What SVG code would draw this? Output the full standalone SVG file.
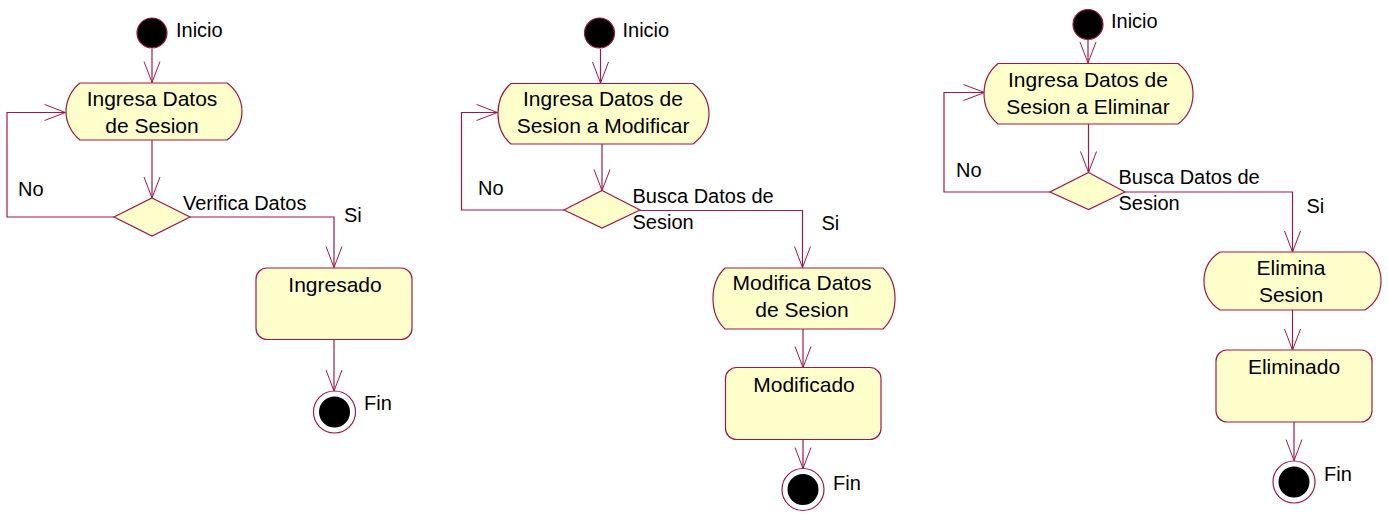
<svg xmlns="http://www.w3.org/2000/svg" width="1388" height="514" viewBox="0 0 1388 514">
<defs>
<marker id="arr" markerUnits="userSpaceOnUse" markerWidth="24" markerHeight="20" viewBox="-22 -10 24 20" refX="0" refY="0" orient="auto">
<path d="M-21,-8 L0,0 L-21,8" fill="none" stroke="#a01848" stroke-width="1"/>
</marker>
</defs>
<style>
.act{fill:#ffffcc;stroke:#a01848;stroke-width:1.2}
.start{fill:#000;stroke:#a01848;stroke-width:1.2}
.fo{fill:#fff;stroke:#a01848;stroke-width:1.2}
.fi{fill:#000}
.c{fill:none;stroke:#a01848;stroke-width:1.2}
.ca{fill:none;stroke:#a01848;stroke-width:1.2;marker-end:url(#arr)}
text{font-family:"Liberation Sans",Arial,sans-serif;font-size:20px;fill:#000}
.n{text-anchor:middle;font-size:21px}
</style>
<rect width="1388" height="514" fill="#fff"/>
<g id="connectors">
<path class="ca" d="M152,49 V82.5"/>
<path class="ca" d="M152,140 V198"/>
<path class="ca" d="M114,217 H7 V112.5 H65.5"/>
<path class="ca" d="M190,217 H334 V267.5"/>
<path class="ca" d="M334,339.5 V391"/>
<path class="ca" d="M600.5,49 V83"/>
<path class="ca" d="M602,144 V190.5"/>
<path class="ca" d="M564,210 H461.5 V112.5 H497.5"/>
<path class="ca" d="M639.5,210.5 H802.5 V267.5"/>
<path class="ca" d="M803,329 V367.5"/>
<path class="ca" d="M803,439.5 V468.5"/>
<path class="ca" d="M1088,40 V63"/>
<path class="ca" d="M1088.5,124 V172.5"/>
<path class="ca" d="M1050,192 H944 V92.5 H984.5"/>
<path class="ca" d="M1125,192 H1292.5 V252"/>
<path class="ca" d="M1292.5,310 V350"/>
<path class="ca" d="M1294,422 V460.5"/>
</g>
<g id="labels">
<text x="18" y="196">No</text>
<text x="183" y="210">Verifica Datos</text>
<text x="344" y="222">Si</text>
<text x="478" y="195">No</text>
<text x="632.5" y="202.5">Busca Datos de</text>
<text x="632.5" y="228.5">Sesion</text>
<text x="821.5" y="230">Si</text>
<text x="956" y="177">No</text>
<text x="1118.5" y="183.5">Busca Datos de</text>
<text x="1118.5" y="209.5">Sesion</text>
<text x="1306.5" y="213">Si</text>
</g>
<g id="start1"><circle class="start" cx="152" cy="33" r="15"/><text x="176" y="37">Inicio</text></g>
<g id="act1"><path class="act" d="M80,83 H227 C237,90 242,101 242,111.5 C242,122 237,133 227,140 H80 C71,133 66,122 66,111.5 C66,101 71,90 80,83 Z"/><text class="n" x="152" y="106">Ingresa Datos</text><text class="n" x="152" y="132.5">de Sesion</text></g>
<g id="dec1"><polygon class="act" points="152,198 190,217 152,236 114,217"/></g>
<g id="state1"><rect class="act" x="256" y="268" width="156" height="71.5" rx="11"/><text class="n" x="335" y="292">Ingresado</text></g>
<g id="end1"><circle class="fo" cx="334.5" cy="412" r="21"/><circle class="fi" cx="334.5" cy="412" r="15.5"/><text x="364" y="410">Fin</text></g>
<g id="start2"><circle class="start" cx="599.5" cy="33" r="15"/><text x="622.5" y="37">Inicio</text></g>
<g id="act2"><path class="act" d="M511,83.5 H693 C703,91 709,102 709,113.75 C709,125.5 703,136.5 693,144 H511 C502,136.5 498,125.5 498,113.75 C498,102 502,91 511,83.5 Z"/><text class="n" x="603" y="106">Ingresa Datos de</text><text class="n" x="603" y="133">Sesion a Modificar</text></g>
<g id="dec2"><polygon class="act" points="602,190.5 640,210 602,228 564,210"/></g>
<g id="act2b"><path class="act" d="M725,268 H883 C891,275.5 895,286.5 895,298.5 C895,310.5 891,321.5 883,329 H725 C717,321.5 713,310.5 713,298.5 C713,286.5 717,275.5 725,268 Z"/><text class="n" x="802" y="290">Modifica Datos</text><text class="n" x="802" y="317">de Sesion</text></g>
<g id="state2"><rect class="act" x="725.5" y="367.5" width="155.5" height="72" rx="11"/><text class="n" x="804" y="392">Modificado</text></g>
<g id="end2"><circle class="fo" cx="803" cy="489.5" r="21"/><circle class="fi" cx="803" cy="489.5" r="15.5"/><text x="833" y="489.5">Fin</text></g>
<g id="start3"><circle class="start" cx="1088" cy="24.5" r="15"/><text x="1111" y="27.5">Inicio</text></g>
<g id="act3"><path class="act" d="M998,63.5 H1178 C1188,71 1193,82 1193,93.75 C1193,105.5 1188,116.5 1178,124 H998 C989,116.5 984,105.5 984,93.75 C984,82 989,71 998,63.5 Z"/><text class="n" x="1088" y="87">Ingresa Datos de</text><text class="n" x="1088" y="113.5">Sesion a Eliminar</text></g>
<g id="dec3"><polygon class="act" points="1088.5,172.5 1125,192 1088.5,209.5 1050,192"/></g>
<g id="act3b"><path class="act" d="M1220,252 H1365 C1376,259 1381,269.5 1381,281 C1381,292.5 1376,303 1365,310 H1220 C1209,303 1204,292.5 1204,281 C1204,269.5 1209,259 1220,252 Z"/><text class="n" x="1291" y="274.5">Elimina</text><text class="n" x="1291" y="302">Sesion</text></g>
<g id="state3"><rect class="act" x="1216" y="350" width="156" height="72" rx="11"/><text class="n" x="1294" y="374">Eliminado</text></g>
<g id="end3"><circle class="fo" cx="1294" cy="482" r="21"/><circle class="fi" cx="1294" cy="482" r="15.5"/><text x="1324" y="481">Fin</text></g>
</svg>
